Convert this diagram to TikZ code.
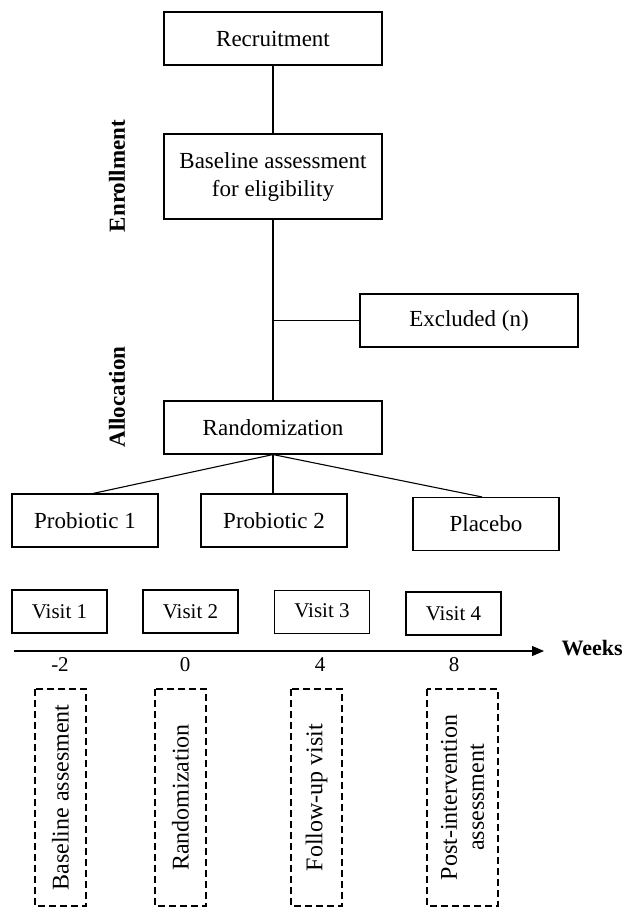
\documentclass[tikz,border=0pt]{standalone}
\usepackage{fontspec}
\setmainfont{Liberation Serif}
\usepackage{tikz}
\usetikzlibrary{positioning,arrows.meta,calc}
\newcommand{\axisarrow}{-{Triangle[length=12pt,width=10pt]}}
\tikzset{
  box/.style={draw,inner sep=0pt,minimum width=218pt,minimum height=53pt,align=center,font=\fontsize{23}{28}\selectfont},
  group/.style={box,minimum width=146pt},
  visit/.style={box,minimum width=95pt,minimum height=43pt,font=\fontsize{21}{25}\selectfont},
  phase/.style={rotate=90,inner sep=0pt,font=\fontsize{23}{28}\selectfont\bfseries},
  week/.style={inner sep=0pt,font=\fontsize{21}{25}\selectfont},
  dbox/.style={draw,dash pattern=on 7pt off 4pt,rotate=90,inner sep=0pt,minimum width=217pt,minimum height=51pt,align=center,font=\fontsize{24}{27}\selectfont},
}

\begin{document}
\begin{tikzpicture}[x=1pt,y=-1pt,line width=1.1pt]
            \useasboundingbox (0,0) rectangle (622,908);
            \node[box] (recruit) at (273,38.5) {Recruitment};
            \node[box,minimum height=85pt] (baseline) at (273,176.5) {Baseline assessment\\for eligibility};
            \node[box] (excluded) at (469,320.5) {Excluded (n)};
            \node[box] (random) at (273,427.5) {Randomization};
            \node[phase] (enroll) at (117,176) {Enrollment};
            \node[phase] (alloc) at (117,397) {Allocation};
            \node[group] (prob1) at (85,520.5) {Probiotic 1};
            \node[group] (prob2) at (274,520.5) {Probiotic 2};
            \node[group] (placebo) at (486,524) {Placebo};
            \draw (recruit) -- (baseline);
            \draw (baseline) -- (random);
            \draw (excluded.west -| baseline.south) -- (excluded.west);
            \draw (random.south) -- ([xshift=8pt]prob1.north);
            \draw (random.south) -- (random.south |- prob2.north);
            \draw (random.south) -- ([xshift=-4pt]placebo.north);
            \node[visit] (visit1) at (59.5,611.5) {Visit 1};
            \node[visit] (visit2) at (190.5,611.5) {Visit 2};
            \node[visit] (visit3) at (322,612) {\raisebox{3pt}{Visit 3}};
            \node[visit] (visit4) at (453.5,613.5) {Visit 4};
            \coordinate (start) at (14,651);
            \coordinate (end) at (544,651);
            \draw[\axisarrow] (start) -- (end);
            \node[anchor=west,inner sep=0pt,font=\fontsize{22}{26}\selectfont\bfseries] (weeks) at (561,648) {Weeks};
            \node[week] (wk1) at (60,665) {-2};
            \node[week] (wk2) at (185,665) {0};
            \node[week] (wk3) at (320,665) {4};
            \node[week] (wk4) at (454,665) {8};
            \node[dbox] (note1) at (60.5,797.5) {Baseline assesment};
            \node[dbox] (note2) at (180.5,797.5) {Randomization};
            \node[dbox] (note3) at (316.5,797.5) {Follow-up visit};
            \node[dbox,minimum height=71pt] (note4) at (462.5,797.5) {Post-intervention\\assessment};
        \end{tikzpicture}
\end{document}
